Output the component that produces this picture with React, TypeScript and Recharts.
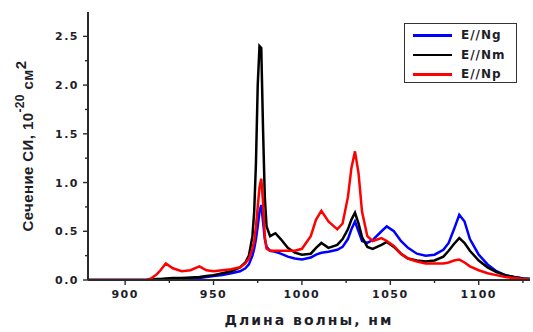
import React from 'react';
import { LineChart, Line, XAxis, YAxis, Legend, Label } from 'recharts';

const wavelengths = [879, 900, 912, 915, 918, 920, 923, 927, 932, 937, 942, 946, 950, 955, 960, 965, 968, 970, 972, 973, 974, 975, 976, 977, 978, 979, 980, 982, 985, 988, 992, 996, 1000, 1005, 1008, 1011, 1015, 1020, 1023, 1026, 1028, 1030, 1032, 1034, 1037, 1040, 1045, 1048, 1052, 1056, 1060, 1065, 1070, 1075, 1080, 1083, 1086, 1089, 1092, 1095, 1100, 1105, 1110, 1115, 1120, 1125, 1129];

const seriesNg = [0, 0, 0, 0, 0, 0, 0, 0, 0, 0.01, 0.02, 0.03, 0.04, 0.05, 0.07, 0.09, 0.12, 0.16, 0.25, 0.32, 0.42, 0.55, 0.7, 0.77, 0.6, 0.42, 0.34, 0.3, 0.29, 0.27, 0.24, 0.22, 0.21, 0.23, 0.26, 0.28, 0.29, 0.31, 0.34, 0.42, 0.52, 0.6, 0.5, 0.4, 0.38, 0.41, 0.5, 0.55, 0.5, 0.4, 0.33, 0.27, 0.25, 0.26, 0.31, 0.38, 0.52, 0.67, 0.6, 0.42, 0.26, 0.16, 0.09, 0.05, 0.03, 0.015, 0.01];

const seriesNm = [0, 0, 0, 0.005, 0.01, 0.01, 0.015, 0.02, 0.02, 0.025, 0.03, 0.04, 0.05, 0.07, 0.09, 0.13, 0.18, 0.25, 0.45, 0.7, 1.2, 2.0, 2.4, 2.38, 1.55, 0.85, 0.55, 0.45, 0.48, 0.42, 0.33, 0.28, 0.26, 0.27, 0.33, 0.38, 0.33, 0.36, 0.42, 0.52, 0.62, 0.69, 0.58, 0.44, 0.34, 0.32, 0.36, 0.39, 0.34, 0.27, 0.22, 0.2, 0.19, 0.2, 0.24, 0.3, 0.37, 0.43, 0.38, 0.3, 0.2, 0.13, 0.08, 0.05, 0.03, 0.015, 0.01];

const seriesNp = [0, 0, 0, 0.02, 0.06, 0.1, 0.17, 0.12, 0.09, 0.1, 0.14, 0.1, 0.09, 0.1, 0.11, 0.13, 0.17, 0.22, 0.32, 0.4, 0.55, 0.75, 0.95, 1.04, 0.8, 0.45, 0.32, 0.3, 0.3, 0.3, 0.3, 0.3, 0.32, 0.45, 0.62, 0.71, 0.6, 0.52, 0.58, 0.85, 1.15, 1.32, 1.1, 0.7, 0.45, 0.4, 0.43, 0.4, 0.35, 0.27, 0.22, 0.19, 0.17, 0.17, 0.17, 0.18, 0.2, 0.21, 0.18, 0.14, 0.1, 0.07, 0.05, 0.03, 0.02, 0.01, 0.005];

const seriesNames = ['E//Ng', 'E//Nm', 'E//Np'];
const seriesColors = ['#0000ff', '#000000', '#ff0000'];

const xTicks = [900, 925, 950, 975, 1000, 1025, 1050, 1075, 1100, 1125];
const yTicks = [0, 0.25, 0.5, 0.75, 1.0, 1.25, 1.5, 1.75, 2.0, 2.25, 2.5];

const data = wavelengths.map((w, i) => ({
  w,
  ng: seriesNg[i],
  nm: seriesNm[i],
  np: seriesNp[i],
}));

const AXIS = '#2a2a2a';
const TXT = '#1e1e2a';
const FONT = '"DejaVu Sans", sans-serif';
const TS = 6;
const TM = 2;

const YTick = (props: any) => {
  const { x, y, payload } = props;
  const v = payload.value;
  const major = Math.abs(v * 2 - Math.round(v * 2)) < 1e-6;
  const ax = x + TM + TS;
  return (
    <g>
      <line x1={ax} x2={ax - (major ? 5 : 3)} y1={y} y2={y} stroke={AXIS} strokeWidth={1.4} />
      {major && (
        <text x={ax - 9} y={y} dy={4} textAnchor="end" fontFamily={FONT} fontWeight="bold" fontSize={11} letterSpacing={1.5} fill={TXT}>
          {v.toFixed(1)}
        </text>
      )}
    </g>
  );
};

const XTick = (props: any) => {
  const { x, y, payload } = props;
  const v = payload.value;
  const major = v % 50 === 0;
  const ay = y - TS - TM;
  return (
    <g>
      <line x1={x} x2={x} y1={ay} y2={ay + (major ? 5 : 3)} stroke={AXIS} strokeWidth={1.4} />
      {major && (
        <text x={x} y={ay + 18} textAnchor="middle" fontFamily={FONT} fontWeight="bold" fontSize={11} letterSpacing={1.5} fill={TXT}>
          {String(v)}
        </text>
      )}
    </g>
  );
};

const LegendBox = () => (
  <div style={{ position: 'relative', width: 113, height: 60, border: '1.5px solid #333', boxSizing: 'border-box', background: '#fff' }}>
    {seriesNames.map((n, i) => (
      <div key={n} style={{ position: 'absolute', left: 0, top: 2 + i * 19.5, height: 19, width: 113 }}>
        <div style={{ position: 'absolute', left: 8, top: 8, width: 39, height: 2.5, background: seriesColors[i] }} />
        <div style={{ position: 'absolute', left: 56, top: 1, fontFamily: FONT, fontWeight: 'bold', fontSize: 12, letterSpacing: 1, color: TXT, lineHeight: '16px' }}>{n}</div>
      </div>
    ))}
  </div>
);

const YLabel = (props: any) => {
  const vb = props.viewBox || { x: 8, y: 12, width: 80, height: 268 };
  const cx = vb.x + 19;
  const cy = vb.y + vb.height / 2;
  return (
    <text x={cx} y={cy} transform={`rotate(-90, ${cx}, ${cy})`} textAnchor="middle" dominantBaseline="central" fontFamily='"Liberation Sans", Arial, sans-serif' fontWeight="bold" fontSize={15} fill={TXT} letterSpacing={0.4}>
      Сечение СИ, 10
      <tspan fontSize={12} dy={-7}>-20</tspan>
      <tspan dy={7}> см</tspan>
      <tspan fontSize={15} dy={-7}>2</tspan>
    </text>
  );
};

export default function App() {
  return (
    <div style={{ position: 'absolute', left: 0, top: 0, width: 533, height: 332, background: '#fff' }}>
      <LineChart width={533} height={332} data={data} margin={{ top: 12, right: 3, bottom: 0, left: 8 }}>
        <XAxis
          dataKey="w"
          type="number"
          domain={[879, 1129]}
          ticks={xTicks}
          interval={0}
          tick={<XTick />}
          tickLine={false}
          tickSize={TS}
          tickMargin={TM}
          height={52}
          axisLine={{ stroke: AXIS, strokeWidth: 2 }}
          allowDataOverflow
        >
          <Label value="Длина волны, нм" position="insideBottom" offset={7} style={{ fontFamily: FONT, fontWeight: 'bold', fontSize: 14, letterSpacing: 2, fill: TXT }} />
        </XAxis>
        <XAxis xAxisId="top" orientation="top" type="number" domain={[879, 1129]} height={0} tick={false} tickLine={false} axisLine={{ stroke: AXIS, strokeWidth: 2 }} />
        <YAxis
          type="number"
          domain={[0, 2.75]}
          ticks={yTicks}
          interval={0}
          tick={<YTick />}
          tickLine={false}
          tickSize={TS}
          tickMargin={TM}
          width={80}
          axisLine={{ stroke: AXIS, strokeWidth: 2 }}
          allowDataOverflow
        >
          <Label content={<YLabel />} />
        </YAxis>
        <YAxis yAxisId="right" orientation="right" type="number" domain={[0, 2.75]} width={0} tick={false} tickLine={false} axisLine={{ stroke: AXIS, strokeWidth: 2 }} />
        <Legend layout="vertical" align="center" verticalAlign="middle" content={<LegendBox />} wrapperStyle={{ position: 'absolute', left: 404, top: 23, width: 113 }} />
        <Line dataKey="ng" name={seriesNames[0]} stroke={seriesColors[0]} strokeWidth={2.5} dot={false} type="linear" isAnimationActive={false} />
        <Line dataKey="nm" name={seriesNames[1]} stroke={seriesColors[1]} strokeWidth={2.5} dot={false} type="linear" isAnimationActive={false} />
        <Line dataKey="np" name={seriesNames[2]} stroke={seriesColors[2]} strokeWidth={2.5} dot={false} type="linear" isAnimationActive={false} />
      </LineChart>
    </div>
  );
}
